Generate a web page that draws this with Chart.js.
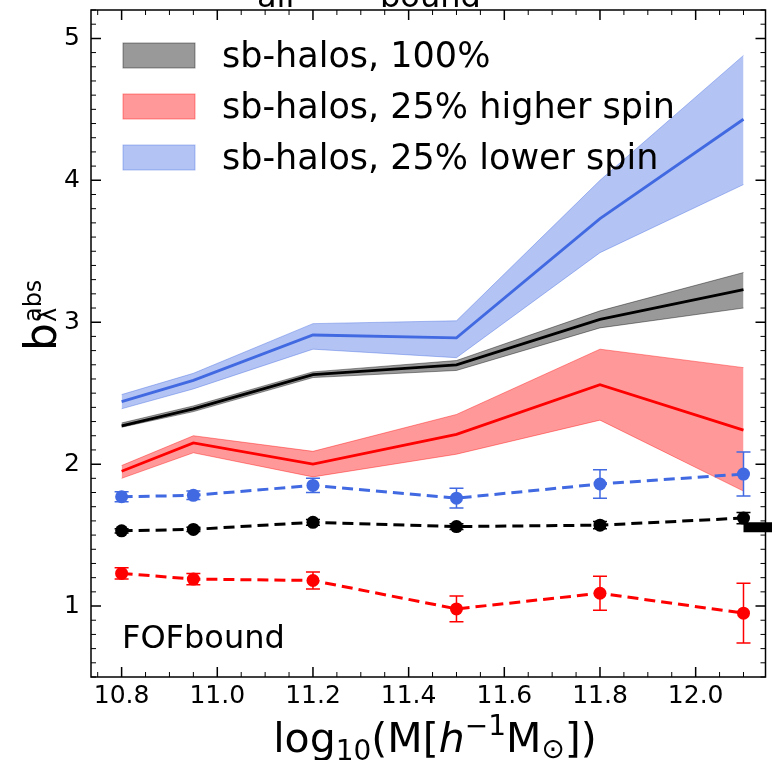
<!DOCTYPE html>
<html>
<head>
<meta charset="utf-8">
<script src="https://cdn.jsdelivr.net/npm/chart.js@4.4.0/dist/chart.umd.min.js"></script>
<style>
  body { margin: 0; background: #fff; }
</style>
</head>
<body>
<canvas id="biasChart" width="772" height="760"></canvas>
<script>
var FONT = "DejaVu Sans";

// halo mass bins (log10 M)
var massBins = [10.8, 10.95, 11.2, 11.5, 11.8, 12.1];

// shaded bands: sb-halos, 100%
var allMid = [2.27, 2.39, 2.63, 2.70, 3.02, 3.23];
var allLo = [2.26, 2.37, 2.61, 2.66, 2.96, 3.10];
var allHi = [2.29, 2.41, 2.65, 2.73, 3.08, 3.35];

// sb-halos, 25% higher spin
var highMid = [1.95, 2.15, 2.00, 2.21, 2.56, 2.24];
var highLo = [1.90, 2.08, 1.91, 2.07, 2.31, 1.81];
var highHi = [1.99, 2.20, 2.09, 2.35, 2.81, 2.68];

// sb-halos, 25% lower spin
var lowMid = [2.44, 2.59, 2.91, 2.89, 3.73, 4.43];
var lowLo = [2.39, 2.53, 2.81, 2.75, 3.49, 3.97];
var lowHi = [2.49, 2.64, 2.99, 3.01, 4.00, 4.88];

// dashed points with error bars
var allPts = [1.53, 1.54, 1.59, 1.56, 1.57, 1.62];
var allErr = [0.015, 0.015, 0.02, 0.02, 0.025, 0.04];
var highPts = [1.23, 1.19, 1.18, 0.98, 1.09, 0.95];
var highErr = [0.04, 0.04, 0.06, 0.09, 0.12, 0.21];
var lowPts = [1.77, 1.78, 1.85, 1.76, 1.86, 1.93];
var lowErr = [0.035, 0.03, 0.05, 0.07, 0.10, 0.155];

// clipped marker at right edge
var edgeX = [12.1, 12.17];
var edgeY = [1.556, 1.556];

var xTicks = [10.8, 11.0, 11.2, 11.4, 11.6, 11.8, 12.0];
var yTicks = [1, 2, 3, 4, 5];
var xMin = 10.736, xMax = 12.146;
var yMin = 0.5, yMax = 5.2;

var legendLabels = ["sb-halos, 100%", "sb-halos, 25% higher spin", "sb-halos, 25% lower spin"];

var BLACK = "#000000", RED = "#ff0000", BLUE = "#4169e1";
var BLACK_A = "rgba(0,0,0,0.4)", RED_A = "rgba(255,0,0,0.4)", BLUE_A = "rgba(65,105,225,0.4)";

function pts(ys, xs) {
   xs = xs || massBins;
   return xs.map(function (x, i) { return { x: x, y: ys[i] }; });
}

function band(ys, color, fill) {
   return { data: pts(ys), borderColor: color, borderWidth: 1, backgroundColor: color,
      fill: fill, pointRadius: 0, tension: 0, order: 10 };
}

function solid(ys, color) {
   return { data: pts(ys), borderColor: color, borderWidth: 2.8, fill: false,
      pointRadius: 0, tension: 0, order: 5 };
}

function dashed(ys, color) {
   return { data: pts(ys), borderColor: color, borderWidth: 3, borderDash: [11, 6], fill: false,
      pointRadius: 6.5, pointBackgroundColor: color, pointBorderWidth: 0, tension: 0, order: 1 };
}

var datasets = [
   band(allHi, BLACK_A, "+1"), band(allLo, BLACK_A, false),
   band(highHi, RED_A, "+1"), band(highLo, RED_A, false),
   band(lowHi, BLUE_A, "+1"), band(lowLo, BLUE_A, false),
   solid(allMid, BLACK), solid(highMid, RED), solid(lowMid, BLUE),
   dashed(allPts, BLACK), dashed(highPts, RED), dashed(lowPts, BLUE),
   { data: pts(edgeY, edgeX), borderColor: BLACK, borderWidth: 10, pointRadius: 0, fill: false, clip: false, order: 0 }
];

// error bars keyed by dataset index
var errorBars = { 9: allErr, 10: highErr, 11: lowErr };

var framePlugin = {
   id: "frame",
   beforeDatasetsDraw: function (chart) {
      var ctx = chart.ctx, a = chart.chartArea;
      var xs = chart.scales.x, ys = chart.scales.y;
      ctx.save();
      ctx.strokeStyle = "#000";
      ctx.lineWidth = 1.5;
      ctx.strokeRect(a.left, a.top, a.right - a.left, a.bottom - a.top);
      var k, v, p, len;
      for (k = Math.ceil(xMin * 20); k <= Math.floor(xMax * 20); k++) {
         v = k / 20;
         p = xs.getPixelForValue(v);
         len = (k % 4 === 0) ? 10 : 5;
         ctx.lineWidth = (k % 4 === 0) ? 1.5 : 1;
         ctx.beginPath();
         ctx.moveTo(p, a.bottom); ctx.lineTo(p, a.bottom - len);
         ctx.moveTo(p, a.top); ctx.lineTo(p, a.top + len);
         ctx.stroke();
      }
      for (k = Math.ceil(yMin * 10); k <= Math.floor(yMax * 10); k++) {
         v = k / 10;
         p = ys.getPixelForValue(v);
         len = (k % 10 === 0) ? 10 : 5;
         ctx.lineWidth = (k % 10 === 0) ? 1.5 : 1;
         ctx.beginPath();
         ctx.moveTo(a.left, p); ctx.lineTo(a.left + len, p);
         ctx.moveTo(a.right, p); ctx.lineTo(a.right - len, p);
         ctx.stroke();
      }
      ctx.restore();
   },
   beforeDatasetDraw: function (chart, args) {
      var errs = errorBars[args.index];
      if (!errs) return;
      var ctx = chart.ctx, xs = chart.scales.x, ys = chart.scales.y;
      var ds = chart.data.datasets[args.index];
      ctx.save();
      ctx.strokeStyle = ds.borderColor;
      ctx.lineWidth = 1.5;
      ds.data.forEach(function (d, i) {
         var px = xs.getPixelForValue(d.x);
         var top = ys.getPixelForValue(d.y + errs[i]);
         var bot = ys.getPixelForValue(d.y - errs[i]);
         ctx.beginPath();
         ctx.moveTo(px, top); ctx.lineTo(px, bot);
         ctx.moveTo(px - 7, top); ctx.lineTo(px + 7, top);
         ctx.moveTo(px - 7, bot); ctx.lineTo(px + 7, bot);
         ctx.stroke();
      });
      ctx.restore();
   },
   afterDatasetsDraw: function (chart) {
      var ctx = chart.ctx;
      ctx.save();
      var fills = [BLACK_A, RED_A, BLUE_A];
      ctx.font = "35px '" + FONT + "'";
      ctx.textBaseline = "middle";
      ctx.textAlign = "left";
      for (var i = 0; i < legendLabels.length; i++) {
         var top = 43 + i * 51;
         ctx.fillStyle = fills[i];
         ctx.fillRect(123, top, 72, 25);
         ctx.strokeStyle = fills[i];
         ctx.lineWidth = 1;
         ctx.strokeRect(123, top, 72, 25);
         ctx.fillStyle = "#000";
         ctx.fillText(legendLabels[i], 222, top + 15);
      }
      ctx.font = "32px '" + FONT + "'";
      ctx.textBaseline = "alphabetic";
      ctx.fillText("FOFbound", 122, 648);
      ctx.restore();
   },
   afterDraw: function (chart) {
      var ctx = chart.ctx;
      ctx.save();
      ctx.fillStyle = "#000";
      ctx.textBaseline = "alphabetic";
      ctx.textAlign = "left";

      // x axis title
      var pieces = [
         ["log", 41, 0, false], ["10", 28, 8, false], ["(M[", 41, 0, false], ["h", 41, 0, true],
         ["\u22121", 28, -17, false], ["M", 41, 0, false], ["\u2299", 28, 6, false], ["])", 41, 0, false]
      ];
      var total = 0;
      pieces.forEach(function (p) {
         ctx.font = (p[3] ? "italic " : "") + p[1] + "px '" + FONT + "'";
         p.w = ctx.measureText(p[0]).width;
         total += p.w;
      });
      var x = 435 - total / 2;
      pieces.forEach(function (p) {
         ctx.font = (p[3] ? "italic " : "") + p[1] + "px '" + FONT + "'";
         ctx.fillText(p[0], x, 752 + p[2]);
         x += p.w;
      });

      // y axis title
      ctx.save();
      ctx.translate(56, 351);
      ctx.rotate(-Math.PI / 2);
      ctx.font = "44px '" + FONT + "'";
      ctx.fillText("b", 0, 0);
      var wb = ctx.measureText("b").width;
      ctx.font = "24px '" + FONT + "'";
      ctx.fillText("abs", wb + 1, -15);
      ctx.fillText("\u03bb", wb + 1, 0);
      ctx.restore();

      // clipped title at the top
      ctx.font = "44px '" + FONT + "'";
      ctx.fillText("\u03bb", 226, -2);
      ctx.fillText("= \u03bb", 300, -2);
      ctx.fillText("> 0.02", 500, -2);
      ctx.font = "32px '" + FONT + "'";
      ctx.fillText("all", 257, 7);
      ctx.fillText("bound", 380, 7);
      ctx.restore();
   }
};

function noPad(s) {
   s.paddingTop = 0; s.paddingBottom = 0; s.paddingLeft = 0; s.paddingRight = 0;
}

var ctx = document.getElementById("biasChart").getContext("2d");
var chart = new Chart(ctx, {
   type: "line",
   data: { datasets: datasets },
   options: {
      responsive: false,
      animation: false,
      devicePixelRatio: 1,
      layout: { padding: { left: 0, top: 10, right: 2, bottom: 0 } },
      plugins: { legend: { display: false }, tooltip: { enabled: false } },
      scales: {
         x: {
            type: "linear", min: xMin, max: xMax,
            grid: { display: false, drawTicks: false },
            border: { display: false },
            ticks: {
               color: "#000", padding: 4, maxRotation: 0, autoSkip: false,
               font: { family: FONT, size: 25 },
               callback: function (v) { return v.toFixed(1); }
            },
            afterBuildTicks: function (s) { s.ticks = xTicks.map(function (v) { return { value: v }; }); },
            afterFit: function (s) { s.height = 83; noPad(s); }
         },
         y: {
            type: "linear", min: yMin, max: yMax,
            grid: { display: false, drawTicks: false },
            border: { display: false },
            ticks: {
               color: "#000", padding: 11, autoSkip: false,
               font: { family: FONT, size: 25 },
               callback: function (v) { return String(v); }
            },
            afterBuildTicks: function (s) { s.ticks = yTicks.map(function (v) { return { value: v }; }); },
            afterFit: function (s) { s.width = 91; noPad(s); }
         }
      }
   },
   plugins: [framePlugin]
});
</script>
</body>
</html>
